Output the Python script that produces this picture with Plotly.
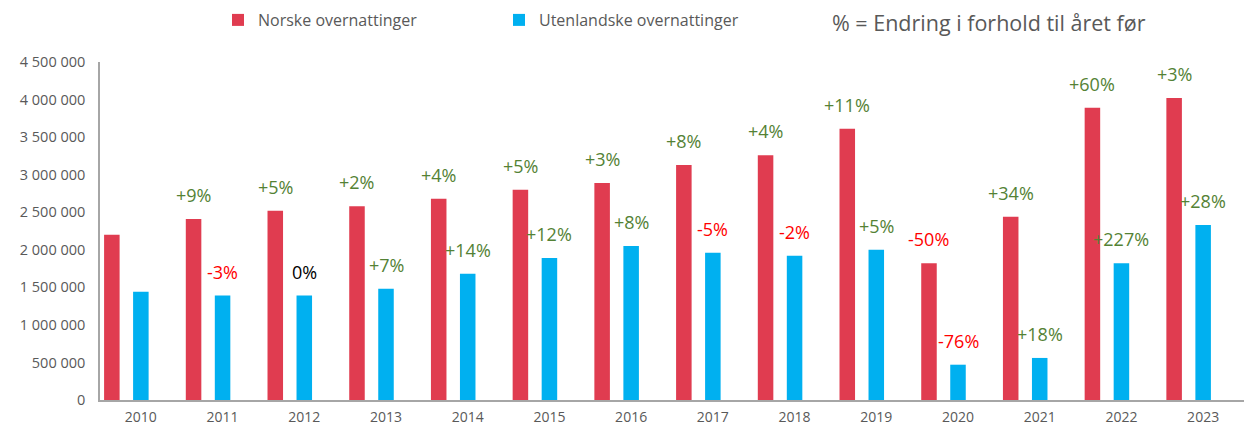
import plotly.graph_objects as go

years = [str(y) for y in range(2010, 2024)]
norske = [2200000, 2410000, 2520000, 2580000, 2680000, 2800000, 2890000, 3130000,
          3260000, 3610000, 1820000, 2440000, 3890000, 4020000]
utenlandske = [1440000, 1390000, 1390000, 1480000, 1680000, 1890000, 2050000, 1960000,
               1920000, 2000000, 470000, 560000, 1820000, 2330000]
norske_pct = ["", "+9%", "+5%", "+2%", "+4%", "+5%", "+3%", "+8%", "+4%", "+11%",
              "-50%", "+34%", "+60%", "+3%"]
utenlandske_pct = ["", "-3%", "0%", "+7%", "+14%", "+12%", "+8%", "-5%", "-2%", "+5%",
                   "-76%", "+18%", "+227%", "+28%"]

RED = "#E03C50"
BLUE = "#00B0F0"
GREEN = "#548235"
FONT = "Open Sans"
GRAY = "#595959"

BW = 0.19
RED_CENTER = -0.355

# the page body has an 8px margin, so the figure sits at (8, 8) in the window
OFF = 8
W, H = 1258 - OFF, 427 - OFF
L, R, T, B = 100 - OFF, 14, 62 - OFF, 27
pw, ph = W - L - R, H - T - B


def px_x(page_x):
    return (page_x - OFF - L) / pw


def px_y(page_y):
    return (H - B - (page_y - OFF)) / ph


fig = go.Figure()
fig.add_trace(go.Bar(x=years, y=norske, name="Norske overnattinger",
                     marker=dict(color=RED, line=dict(width=0)),
                     width=BW, offset=RED_CENTER - BW / 2))
fig.add_trace(go.Bar(x=years, y=utenlandske, name="Utenlandske overnattinger",
                     marker=dict(color=BLUE, line=dict(width=0)),
                     width=BW, offset=-BW / 2))


def col(t):
    if t.startswith("+"):
        return GREEN
    if t.startswith("-"):
        return "#FF0000"
    return "#000000"


annotations = []
for i, yr in enumerate(years):
    for vals, pcts, dx in ((norske, norske_pct, RED_CENTER), (utenlandske, utenlandske_pct, 0.0)):
        t = pcts[i]
        if not t:
            continue
        annotations.append(dict(x=i + dx, y=vals[i], xref="x", yref="y", text=t,
                                showarrow=False, xanchor="center", yanchor="middle",
                                yshift=24, font=dict(family=FONT, size=18, color=col(t))))

annotations.append(dict(x=px_x(830), y=px_y(22), xref="paper", yref="paper",
                        text="% = Endring i forhold til året før",
                        showarrow=False, xanchor="left", yanchor="middle",
                        font=dict(family=FONT, size=21.5, color=GRAY)))

fig.update_layout(
    width=W, height=H,
    margin=dict(l=L, r=R, t=T, b=B, autoexpand=False),
    paper_bgcolor="white", plot_bgcolor="white",
    barmode="overlay",
    separators=", ",
    font=dict(family=FONT, color=GRAY, size=14),
    showlegend=True,
    legend=dict(orientation="h", x=px_x(218), y=px_y(20), xanchor="left", yanchor="middle",
                font=dict(family=FONT, size=16, color=GRAY), bgcolor="rgba(0,0,0,0)",
                entrywidth=236, entrywidthmode="pixels", itemclick=False),
    xaxis=dict(type="category", range=[-0.5, 13.5], showgrid=False, showline=True,
               linecolor="#A6A6A6", linewidth=1.5, ticks="", tickfont=dict(size=14, color=GRAY),
               ticklabelstandoff=3, fixedrange=True),
    yaxis=dict(range=[0, 4500000], dtick=500000, tickformat=",d", showgrid=False, showline=True,
               linecolor="#A6A6A6", linewidth=1.5, ticks="", zeroline=False,
               tickfont=dict(size=14.5, color=GRAY), ticklabelstandoff=10, fixedrange=True),
    annotations=annotations,
)

fig.write_html("out.html")
